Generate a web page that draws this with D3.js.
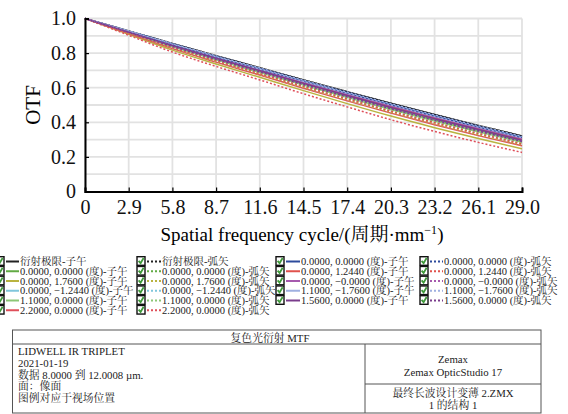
<!DOCTYPE html>
<html lang="zh">
<head>
<meta charset="UTF-8">
<title>复色光衍射 MTF</title>
<script src="https://cdn.jsdelivr.net/npm/d3@7.8.5/dist/d3.min.js"></script>
<style>
  body { margin: 0; background: #fff; }
  svg, svg text { font-family: "Liberation Serif", "Noto Serif CJK SC", "Noto Sans CJK SC", serif; }
  .grid line { stroke: #e2e2e2; stroke-width: 1.8; }
  .axis path, .axis line { stroke: #000; }
  .axis text { font-size: 20px; fill: #111; }
  .leg text { font-size: 10.5px; fill: #222; }
  .info text { font-size: 10.8px; fill: #222; }
</style>
</head>
<body>
<svg id="chart" width="568" height="414"></svg>
<script>
// spatial frequency ticks (cycles/mm)
const freqs = [0, 2.9, 5.8, 8.7, 11.6, 14.5, 17.4, 20.3, 23.2, 26.1, 29.0];
const xTickLabels = ["0", "2.9", "5.8", "8.7", "11.6", "14.5", "17.4", "20.3", "23.2", "26.1", "29.0"];
const yTicks = [0, 0.2, 0.4, 0.6, 0.8, 1.0];
const yTickLabels = ["0", "0.2", "0.4", "0.6", "0.8", "1.0"];

// legend labels, 4 columns
const labelsCol1 = ["衍射极限-子午", "0.0000, 0.0000 (度)-子午", "0.0000, 1.7600 (度)-子午", "0.0000, −1.2440 (度)-子午", "1.1000, 0.0000 (度)-子午", "2.2000, 0.0000 (度)-子午"];
const labelsCol2 = ["衍射极限-弧矢", "0.0000, 0.0000 (度)-弧矢", "0.0000, 1.7600 (度)-弧矢", "0.0000, −1.2440 (度)-弧矢", "1.1000, 0.0000 (度)-弧矢", "2.2000, 0.0000 (度)-弧矢"];
const labelsCol3 = ["0.0000, 0.0000 (度)-子午", "0.0000, 1.2440 (度)-子午", "0.0000, −0.0000 (度)-子午", "1.1000, −1.7600 (度)-子午", "1.5600, 0.0000 (度)-子午"];
const labelsCol4 = ["0.0000, 0.0000 (度)-弧矢", "0.0000, 1.2440 (度)-弧矢", "0.0000, −0.0000 (度)-弧矢", "1.1000, −1.7600 (度)-弧矢", "1.5600, 0.0000 (度)-弧矢"];

const colorsCol1 = ["#222222", "#62aa44", "#b9b340", "#80c6dc", "#8cc676", "#df4f5a"];
const colorsCol3 = ["#2d4b9c", "#e0524c", "#a65aae", "#9fb0e0", "#7a3c8c"];

// OTF values read at each frequency tick
const otfCol1 = [
  [1, 0.928, 0.856, 0.785, 0.715, 0.645, 0.577, 0.510, 0.445, 0.382, 0.321],
  [1, 0.921, 0.841, 0.766, 0.694, 0.621, 0.551, 0.482, 0.416, 0.353, 0.293],
  [1, 0.909, 0.817, 0.737, 0.660, 0.583, 0.508, 0.436, 0.369, 0.306, 0.247],
  [1, 0.923, 0.845, 0.771, 0.700, 0.627, 0.558, 0.489, 0.423, 0.360, 0.300],
  [1, 0.919, 0.837, 0.761, 0.688, 0.615, 0.544, 0.474, 0.408, 0.345, 0.285],
  [1, 0.913, 0.826, 0.748, 0.673, 0.597, 0.524, 0.453, 0.386, 0.323, 0.264]
];
const otfCol2 = [
  [1, 0.928, 0.856, 0.785, 0.715, 0.645, 0.577, 0.510, 0.445, 0.382, 0.321],
  [1, 0.919, 0.838, 0.763, 0.690, 0.616, 0.545, 0.476, 0.410, 0.347, 0.287],
  [1, 0.914, 0.829, 0.751, 0.677, 0.601, 0.529, 0.458, 0.391, 0.328, 0.269],
  [1, 0.921, 0.842, 0.768, 0.695, 0.623, 0.552, 0.483, 0.418, 0.355, 0.294],
  [1, 0.917, 0.834, 0.757, 0.684, 0.609, 0.537, 0.467, 0.401, 0.338, 0.278],
  [1, 0.903, 0.806, 0.723, 0.645, 0.565, 0.489, 0.415, 0.347, 0.284, 0.226]
];
const otfCol3 = [
  [1, 0.927, 0.853, 0.781, 0.711, 0.640, 0.572, 0.504, 0.439, 0.376, 0.315],
  [1, 0.923, 0.846, 0.773, 0.701, 0.629, 0.559, 0.491, 0.425, 0.362, 0.302],
  [1, 0.924, 0.849, 0.776, 0.705, 0.633, 0.564, 0.496, 0.430, 0.367, 0.307],
  [1, 0.926, 0.851, 0.779, 0.708, 0.637, 0.568, 0.501, 0.435, 0.372, 0.312],
  [1, 0.922, 0.844, 0.770, 0.698, 0.625, 0.555, 0.486, 0.421, 0.358, 0.297]
];
const otfCol4 = [
  [1, 0.926, 0.852, 0.780, 0.709, 0.639, 0.570, 0.502, 0.437, 0.374, 0.313],
  [1, 0.916, 0.832, 0.755, 0.681, 0.607, 0.535, 0.464, 0.398, 0.335, 0.275],
  [1, 0.920, 0.839, 0.764, 0.691, 0.618, 0.547, 0.478, 0.412, 0.349, 0.289],
  [1, 0.928, 0.855, 0.784, 0.714, 0.643, 0.575, 0.508, 0.443, 0.380, 0.319],
  [1, 0.920, 0.840, 0.765, 0.693, 0.619, 0.549, 0.480, 0.414, 0.351, 0.291]
];

const infoLeft = ["LIDWELL IR TRIPLET", "2021-01-19", "数据 8.0000 到 12.0008 µm.", "面：像面", "图例对应于视场位置"];
const infoRightTop = ["Zemax", "Zemax OpticStudio 17"];
const infoRightBottom = ["最终长波设计变薄 2.ZMX", "1 的结构 1"];

const svg = d3.select("#chart");

const x = d3.scaleLinear().domain([0, 29]).range([85, 522]);
const y = d3.scaleLinear().domain([0, 1]).range([191.5, 18.5]);

// grid
const grid = svg.append("g").attr("class", "grid");
grid.selectAll(".gx").data(freqs).enter().append("line")
  .attr("x1", d => x(d)).attr("x2", d => x(d))
  .attr("y1", y(0)).attr("y2", y(1));
grid.selectAll(".gy").data(d3.range(1, 11).map(i => i / 10)).enter().append("line")
  .attr("x1", x(0)).attr("x2", x(29))
  .attr("y1", d => y(d)).attr("y2", d => y(d));

// series
const series = [];
otfCol1.forEach((v, i) => series.push({ values: v, color: colorsCol1[i], dotted: false }));
otfCol2.forEach((v, i) => series.push({ values: v, color: colorsCol1[i], dotted: true }));
otfCol3.forEach((v, i) => series.push({ values: v, color: colorsCol3[i], dotted: false }));
otfCol4.forEach((v, i) => series.push({ values: v, color: colorsCol3[i], dotted: true }));

const line = d3.line()
  .x((d, i) => x(freqs[i]))
  .y(d => y(d))
  .curve(d3.curveMonotoneX);

svg.append("g").selectAll("path").data(series).enter().append("path")
  .attr("d", d => line(d.values))
  .attr("fill", "none")
  .attr("stroke", d => d.color)
  .attr("stroke-width", 1.5)
  .attr("stroke-dasharray", d => d.dotted ? "2,2" : null);

// axes
const xAxis = d3.axisBottom(x).tickValues(freqs)
  .tickFormat((d, i) => xTickLabels[i]).tickSize(-4).tickPadding(8);
const gx = svg.append("g").attr("class", "axis").attr("transform", `translate(0,${y(0)})`).call(xAxis);
gx.select(".domain").attr("stroke-width", 2);
gx.selectAll("line").attr("stroke-width", 1.2);

const yAxis = d3.axisLeft(y).tickValues(yTicks)
  .tickFormat((d, i) => yTickLabels[i]).tickSize(-4).tickPadding(9);
const gy = svg.append("g").attr("class", "axis").attr("transform", `translate(${x(0)},0)`).call(yAxis);
gy.select(".domain").attr("stroke-width", 2);
gy.selectAll("line").attr("stroke-width", 1.2);
svg.selectAll(".axis").attr("font-family", null).attr("font-size", null);

svg.append("text")
  .attr("transform", `translate(40,105) rotate(-90)`)
  .attr("text-anchor", "middle")
  .attr("font-size", 21)
  .text("OTF");

const xt = svg.append("text")
  .attr("x", 302).attr("y", 241)
  .attr("text-anchor", "middle")
  .attr("font-size", 19);
xt.append("tspan").text("Spatial frequency cycle/(周期·mm");
xt.append("tspan").attr("font-size", 12).attr("dy", -7).text("−1");
xt.append("tspan").attr("dy", 7).text(")");

// legend
const legendCols = [
  { labels: labelsCol1, colors: colorsCol1, dotted: false, box: -4, tx: 20 },
  { labels: labelsCol2, colors: colorsCol1, dotted: true, box: 137, tx: 162 },
  { labels: labelsCol3, colors: colorsCol3, dotted: false, box: 276, tx: 301 },
  { labels: labelsCol4, colors: colorsCol3, dotted: true, box: 420, tx: 444 }
];
const rowY = i => 265 + i * 9.75;

const leg = svg.append("g").attr("class", "leg");
legendCols.forEach(col => {
  col.labels.forEach((lab, i) => {
    const yy = rowY(i);
    leg.append("rect")
      .attr("x", col.box).attr("y", yy - 8.3)
      .attr("width", 8).attr("height", 8.6)
      .attr("fill", "#fff").attr("stroke", "#111").attr("stroke-width", 1.4);
    leg.append("path")
      .attr("d", `M${col.box + 1.6},${yy - 4.2} L${col.box + 3.6},${yy - 1.8} L${col.box + 6.6},${yy - 7}`)
      .attr("fill", "none").attr("stroke", "#3f9a3a").attr("stroke-width", 1.8);
    leg.append("line")
      .attr("x1", col.box + 10).attr("x2", col.tx - 1)
      .attr("y1", yy - 3.5).attr("y2", yy - 3.5)
      .attr("stroke", col.colors[i]).attr("stroke-width", 2)
      .attr("stroke-dasharray", col.dotted ? "2,2" : null);
    leg.append("text").attr("x", col.tx).attr("y", yy).text(lab);
  });
});

// info box
const info = svg.append("g").attr("class", "info");
const boxL = 12.5, boxR = 541, boxT = 330, boxB = 413, titleB = 344, divX = 365, divY = 384;
info.append("rect").attr("x", boxL).attr("y", boxT).attr("width", boxR - boxL).attr("height", boxB - boxT)
  .attr("fill", "none").attr("stroke", "#555").attr("stroke-width", 1);
info.append("line").attr("x1", boxL).attr("x2", boxR).attr("y1", titleB).attr("y2", titleB).attr("stroke", "#555");
info.append("line").attr("x1", divX).attr("x2", divX).attr("y1", titleB).attr("y2", boxB).attr("stroke", "#555");
info.append("line").attr("x1", divX).attr("x2", boxR).attr("y1", divY).attr("y2", divY).attr("stroke", "#555");

info.append("text").attr("x", 270).attr("y", 341.5).attr("text-anchor", "middle")
  .attr("font-size", 11.5).text("复色光衍射 MTF");
info.selectAll(".il").data(infoLeft).enter().append("text")
  .attr("x", 18).attr("y", (d, i) => 355 + i * 11.8).text(d => d);
info.selectAll(".irt").data(infoRightTop).enter().append("text")
  .attr("x", (divX + boxR) / 2).attr("y", (d, i) => 363 + i * 13).attr("text-anchor", "middle").text(d => d);
info.selectAll(".irb").data(infoRightBottom).enter().append("text")
  .attr("x", (divX + boxR) / 2).attr("y", (d, i) => 397 + i * 12).attr("text-anchor", "middle").text(d => d);
</script>
</body>
</html>
